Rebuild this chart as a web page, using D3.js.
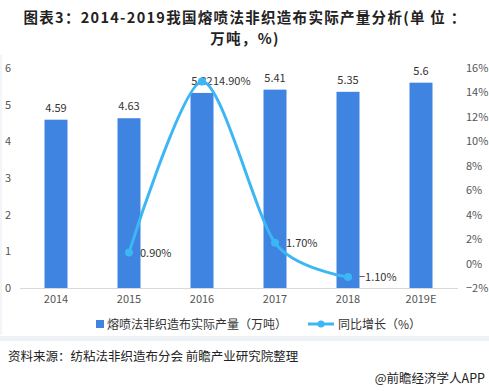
<!DOCTYPE html>
<html>
<head>
<meta charset="utf-8">
<script src="https://cdn.jsdelivr.net/npm/d3@7"></script>
<style>
  body { margin: 0; background: #fff; }
  svg text { font-family: "Noto Sans CJK SC", "Noto Sans", sans-serif; }
</style>
</head>
<body>
<div id="app"></div>
<script>
// chart data
const years = ["2014", "2015", "2016", "2017", "2018", "2019E"];
const output = [4.59, 4.63, 5.32, 5.41, 5.35, 5.6];
const growthYears = ["2015", "2016", "2017", "2018"];
const growth = [0.9, 14.9, 1.7, -1.1];
const leftTicks = [0, 1, 2, 3, 4, 5, 6];
const rightTicks = [-2, 0, 2, 4, 6, 8, 10, 12, 14, 16];

const w = 489, h = 391;
const barColor = "#3f84e0";
const lineColor = "#3cb6f4";

const svg = d3.select("#app").append("svg")
  .attr("width", w)
  .attr("height", h);

// faint frame on the left
svg.append("line")
  .attr("x1", 1).attr("x2", 1).attr("y1", 55).attr("y2", 335)
  .attr("stroke", "#e4ecf4");

// title
const title = svg.append("g")
  .attr("text-anchor", "middle")
  .attr("font-weight", "bold")
  .attr("font-size", 14.5)
  .attr("letter-spacing", 1.3)
  .attr("fill", "#222");
title.append("text").attr("x", 245).attr("y", 23)
  .text("图表3：2014-2019我国熔喷法非织造布实际产量分析(单 位 ：");
title.append("text").attr("x", 245).attr("y", 44)
  .text("万吨，%)");

const plotTop = 68, plotBottom = 288;

const x = d3.scaleBand()
  .domain(years)
  .range([19.5, 457.5]);

const yL = d3.scaleLinear().domain([0, 6]).range([plotBottom, plotTop]);
const yR = d3.scaleLinear().domain([-2, 16]).range([plotBottom, plotTop]);

// left axis
const axL = svg.append("g")
  .call(d3.axisLeft(yL).tickValues(leftTicks).tickSize(0).tickPadding(0)
    .tickFormat(d3.format("d")));
axL.select(".domain").remove();
axL.selectAll("text").attr("font-size", 11).attr("fill", "#555")
  .attr("text-anchor", "start").attr("x", 5);

// right axis
const axR = svg.append("g")
  .attr("transform", "translate(466,0)")
  .call(d3.axisRight(yR).tickValues(rightTicks).tickSize(0).tickPadding(0)
    .tickFormat(d => (d < 0 ? "\u2212" + (-d) : d) + "%"));
axR.select(".domain").remove();
axR.selectAll("text").attr("font-size", 11).attr("fill", "#555");

// bottom axis
const axB = svg.append("g")
  .attr("transform", `translate(0,${plotBottom})`)
  .call(d3.axisBottom(x).tickSize(0).tickPadding(7));
axB.select(".domain").attr("stroke", "#d9d9d9");
axB.selectAll("text").attr("font-size", 11).attr("fill", "#555");

// bars
const bw = 23;
svg.selectAll("rect.bar")
  .data(years)
  .enter()
  .append("rect")
  .attr("class", "bar")
  .attr("x", (d) => x(d) + x.bandwidth() / 2 - bw / 2)
  .attr("width", bw)
  .attr("y", (d, i) => yL(output[i]))
  .attr("height", (d, i) => plotBottom - yL(output[i]))
  .attr("fill", barColor);

svg.selectAll("text.barlab")
  .data(years)
  .enter()
  .append("text")
  .attr("class", "barlab")
  .attr("x", (d) => x(d) + x.bandwidth() / 2)
  .attr("y", (d, i) => yL(output[i]) - 8)
  .attr("text-anchor", "middle")
  .attr("font-size", 11)
  .attr("fill", "#333")
  .text((d, i) => output[i]);

// growth line
const pts = growthYears.map((d, i) => [x(d) + x.bandwidth() / 2, yR(growth[i])]);
const line = d3.line().curve(d3.curveCardinal.tension(0.2));

svg.append("path")
  .attr("d", line(pts))
  .attr("fill", "none")
  .attr("stroke", lineColor)
  .attr("stroke-width", 3);

svg.selectAll("circle.pt")
  .data(pts)
  .enter()
  .append("circle")
  .attr("class", "pt")
  .attr("cx", (d) => d[0])
  .attr("cy", (d) => d[1])
  .attr("r", 4)
  .attr("fill", lineColor);

svg.selectAll("text.ptlab")
  .data(pts)
  .enter()
  .append("text")
  .attr("class", "ptlab")
  .attr("x", (d) => d[0] + 11)
  .attr("y", (d) => d[1] + 4)
  .attr("font-size", 11)
  .attr("fill", "#333")
  .text((d, i) => (growth[i] < 0 ? "\u2212" + (-growth[i]).toFixed(2) : growth[i].toFixed(2)) + "%");

// legend
const leg = svg.append("g").attr("font-size", 12).attr("fill", "#333");
leg.append("rect").attr("x", 96).attr("y", 320).attr("width", 8).attr("height", 8).attr("fill", barColor);
leg.append("text").attr("x", 107).attr("y", 329).attr("fill", "#333").text("熔喷法非织造布实际产量（万吨）");
leg.append("line").attr("x1", 308).attr("x2", 334).attr("y1", 324).attr("y2", 324)
  .attr("stroke", lineColor).attr("stroke-width", 3);
leg.append("circle").attr("cx", 321).attr("cy", 324).attr("r", 3.5).attr("fill", lineColor);
leg.append("text").attr("x", 338).attr("y", 329).attr("fill", "#333").text("同比增长（%）");

// separator band
svg.append("rect").attr("x", 0).attr("y", 336).attr("width", w).attr("height", 5).attr("fill", "#eef2f6");

// source
svg.append("text").attr("x", 8).attr("y", 361).attr("font-size", 12.5).attr("fill", "#222")
  .text("资料来源：纺粘法非织造布分会 前瞻产业研究院整理");
svg.append("text").attr("x", 485).attr("y", 383).attr("text-anchor", "end")
  .attr("font-size", 12.5).attr("fill", "#222")
  .text("@前瞻经济学人APP");
</script>
</body>
</html>
